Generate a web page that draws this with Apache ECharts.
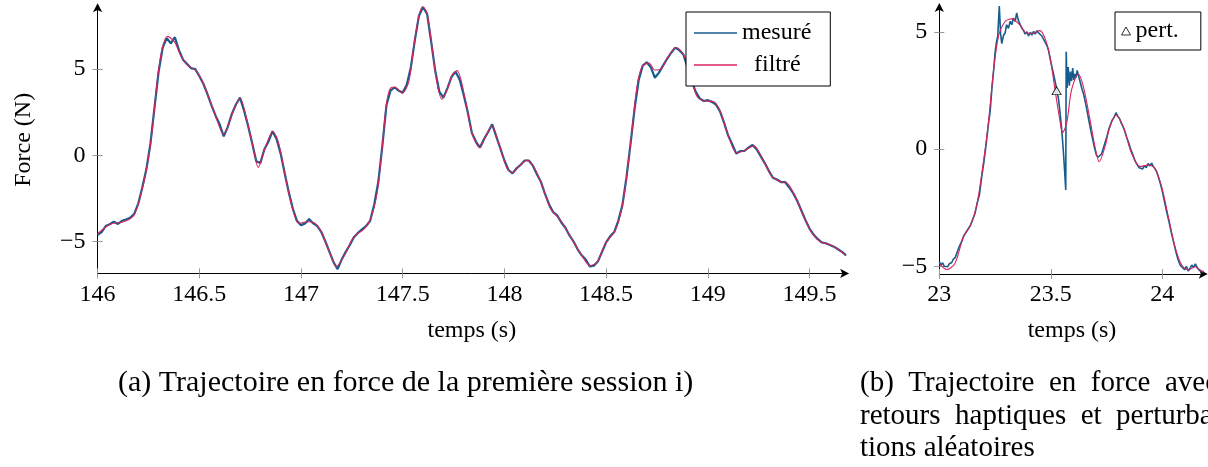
<!DOCTYPE html>
<html><head><meta charset="utf-8">
<script src="https://cdn.jsdelivr.net/npm/echarts@6/dist/echarts.min.js"></script>
<style>html,body{margin:0;padding:0;background:#fff}#c{width:1208px;height:467px}</style>
</head><body><div id="c"></div>
<script>
// ---------- data ----------
const leftMeasT = [146.00,146.02,146.04,146.06,146.08,146.10,146.12,146.14,146.16,146.18,146.20,146.22,146.24,146.26,146.28,146.30,146.32,146.34,146.36,146.38,146.40,146.42,146.44,146.46,146.48,146.50,146.52,146.54,146.56,146.58,146.60,146.62,146.64,146.66,146.68,146.70,146.72,146.74,146.76,146.78,146.80,146.82,146.84,146.86,146.88,146.90,146.92,146.94,146.96,146.98,147.00,147.02,147.04,147.06,147.08,147.10,147.12,147.14,147.16,147.18,147.20,147.22,147.24,147.26,147.28,147.30,147.32,147.34,147.36,147.38,147.40,147.42,147.44,147.46,147.48,147.50,147.52,147.54,147.56,147.58,147.60,147.62,147.64,147.66,147.68,147.70,147.72,147.74,147.76,147.78,147.80,147.82,147.84,147.86,147.88,147.90,147.92,147.94,147.96,147.98,148.00,148.02,148.04,148.06,148.08,148.10,148.12,148.14,148.16,148.18,148.20,148.22,148.24,148.26,148.28,148.30,148.32,148.34,148.36,148.38,148.40,148.42,148.44,148.46,148.48,148.50,148.52,148.54,148.56,148.58,148.60,148.62,148.64,148.66,148.68,148.70,148.72,148.74,148.76,148.78,148.80,148.82,148.84,148.86,148.88,148.90,148.92,148.94,148.96,148.98,149.00,149.02,149.04,149.06,149.08,149.10,149.12,149.14,149.16,149.18,149.20,149.22,149.24,149.26,149.28,149.30,149.32,149.34,149.36,149.38,149.40,149.42,149.44,149.46,149.48,149.50,149.52,149.54,149.56,149.58,149.60,149.62,149.64,149.66,149.68];
const leftMeasV = [-4.62,-4.45,-4.10,-4.00,-3.85,-3.98,-3.80,-3.72,-3.62,-3.40,-2.80,-1.85,-0.80,0.70,2.80,4.85,6.25,6.80,6.50,6.85,6.10,5.55,5.30,5.05,5.00,4.60,4.15,3.55,2.90,2.30,1.80,1.10,1.65,2.40,2.95,3.35,2.60,1.70,0.70,-0.35,-0.45,0.35,0.80,1.40,0.95,0.10,-1.05,-2.15,-3.10,-3.80,-4.05,-3.95,-3.70,-3.95,-4.10,-4.45,-5.00,-5.60,-6.20,-6.60,-6.05,-5.60,-5.20,-4.75,-4.50,-4.30,-4.10,-3.80,-2.85,-1.55,0.55,2.90,3.75,3.95,3.75,3.65,4.10,5.10,6.70,8.10,8.60,8.20,6.60,4.90,3.70,3.35,3.90,4.55,4.85,4.40,3.50,2.50,1.30,0.80,0.45,0.95,1.35,1.80,1.10,0.40,-0.30,-0.85,-1.05,-0.75,-0.55,-0.30,-0.30,-0.60,-1.10,-1.55,-2.25,-2.85,-3.30,-3.50,-3.90,-4.20,-4.65,-5.00,-5.45,-5.80,-6.05,-6.45,-6.40,-6.15,-5.60,-5.05,-4.70,-4.45,-3.80,-2.90,-1.30,0.65,2.70,4.35,5.20,5.40,5.10,4.50,4.80,5.20,5.60,5.95,6.25,6.10,5.85,5.10,4.35,3.70,3.30,3.15,3.20,3.10,2.95,2.55,1.90,1.15,0.65,0.10,0.25,0.25,0.45,0.60,0.35,-0.05,-0.45,-0.90,-1.30,-1.40,-1.55,-1.55,-1.85,-2.20,-2.65,-3.20,-3.75,-4.25,-4.60,-4.85,-5.05,-5.10,-5.20,-5.30,-5.45,-5.60,-5.80];

const leftFiltT = [146.000,146.062,146.128,146.177,146.210,146.243,146.267,146.292,146.316,146.344,146.380,146.407,146.440,146.480,146.520,146.570,146.620,146.669,146.700,146.734,146.767,146.790,146.820,146.862,146.890,146.923,146.956,146.989,147.030,147.062,147.095,147.136,147.174,147.210,147.260,147.308,147.340,147.374,147.398,147.423,147.447,147.472,147.497,147.530,147.554,147.579,147.598,147.620,147.644,147.669,147.693,147.718,147.743,147.767,147.808,147.841,147.879,147.907,147.939,147.972,148.013,148.040,148.070,148.111,148.144,148.185,148.226,148.275,148.325,148.374,148.423,148.456,148.497,148.546,148.579,148.603,148.628,148.652,148.677,148.710,148.740,148.770,148.800,148.846,148.882,148.915,148.948,148.980,149.030,149.062,149.103,149.141,149.177,149.226,149.267,149.316,149.357,149.390,149.431,149.472,149.513,149.554,149.603,149.644,149.677];
const leftFiltV = [-4.55,-4.00,-3.85,-3.50,-2.40,-0.66,1.28,4.18,6.11,6.90,6.55,5.82,5.24,4.95,4.18,2.63,1.22,2.63,3.31,2.05,0.31,-0.70,0.31,1.37,0.70,-1.24,-2.98,-3.95,-3.85,-3.90,-4.33,-5.49,-6.45,-5.88,-4.72,-4.29,-3.75,-2.20,0.31,3.21,3.95,3.89,3.60,4.27,6.30,8.05,8.60,8.24,6.30,4.18,3.25,3.79,4.66,4.91,3.21,1.28,0.45,1.08,1.70,0.70,-0.75,-1.00,-0.66,-0.28,-0.66,-1.72,-3.08,-3.75,-4.72,-5.69,-6.40,-6.20,-5.11,-4.33,-2.98,-1.04,1.47,3.98,5.15,5.35,4.95,5.00,5.63,6.25,5.82,4.56,3.40,3.17,3.11,2.53,1.08,0.15,0.27,0.55,-0.17,-1.24,-1.53,-1.62,-2.40,-3.56,-4.53,-5.01,-5.20,-5.49,-5.78];

const rightMeasT = [23.000,23.008,23.015,23.022,23.030,23.038,23.046,23.055,23.063,23.072,23.080,23.090,23.100,23.110,23.120,23.130,23.140,23.150,23.160,23.170,23.180,23.190,23.200,23.210,23.220,23.228,23.236,23.244,23.250,23.256,23.262,23.269,23.275,23.280,23.288,23.295,23.302,23.310,23.318,23.325,23.332,23.340,23.347,23.354,23.362,23.370,23.378,23.385,23.393,23.400,23.408,23.415,23.423,23.430,23.438,23.445,23.452,23.460,23.467,23.475,23.483,23.490,23.497,23.505,23.512,23.520,23.527,23.535,23.542,23.550,23.557,23.562,23.567,23.569,23.573,23.578,23.583,23.588,23.593,23.598,23.603,23.608,23.613,23.618,23.625,23.632,23.640,23.648,23.656,23.664,23.672,23.680,23.688,23.696,23.704,23.712,23.720,23.728,23.736,23.744,23.752,23.760,23.768,23.776,23.784,23.792,23.800,23.808,23.816,23.824,23.832,23.840,23.848,23.856,23.864,23.872,23.880,23.888,23.896,23.904,23.912,23.920,23.928,23.936,23.944,23.952,23.960,23.968,23.976,23.984,23.992,24.000,24.010,24.020,24.030,24.040,24.050,24.060,24.070,24.080,24.090,24.100,24.108,24.116,24.124,24.132,24.140,24.148,24.156,24.164,24.172,24.180,24.185];
const rightMeasV = [-4.80,-4.95,-4.85,-5.00,-4.92,-5.02,-4.88,-4.85,-4.70,-4.62,-4.40,-4.15,-3.95,-3.70,-3.55,-3.40,-3.25,-3.00,-2.75,-2.30,-1.95,-1.20,-0.55,0.20,1.05,1.60,2.60,3.40,4.10,4.55,4.80,6.10,4.90,4.50,4.85,4.95,5.30,5.15,5.45,5.30,5.58,5.45,5.80,5.50,5.43,5.15,5.05,4.90,5.00,4.82,4.98,4.86,5.02,4.90,5.05,4.95,5.00,4.82,4.75,4.55,4.40,4.20,3.85,3.50,3.20,2.85,2.50,2.10,1.50,0.70,-0.20,-0.95,-1.75,4.15,2.60,3.50,2.70,3.30,2.90,3.45,2.95,3.20,3.05,3.35,3.10,2.85,2.55,2.30,1.95,1.55,1.15,0.75,0.40,0.05,-0.25,-0.35,-0.30,-0.20,0.05,0.30,0.55,0.85,1.05,1.25,1.35,1.55,1.40,1.30,1.10,0.95,0.75,0.50,0.30,0.05,-0.15,-0.35,-0.55,-0.62,-0.80,-0.75,-0.85,-0.70,-0.80,-0.62,-0.72,-0.60,-0.75,-0.85,-1.00,-1.25,-1.50,-1.80,-2.25,-2.70,-3.10,-3.55,-3.95,-4.35,-4.70,-4.95,-5.05,-5.15,-5.00,-5.20,-5.10,-4.95,-5.05,-4.90,-5.05,-5.15,-5.10,-5.25,-5.20];

const rightFiltT = [23.000,23.033,23.070,23.108,23.137,23.167,23.197,23.220,23.242,23.265,23.294,23.324,23.362,23.392,23.421,23.451,23.474,23.496,23.519,23.538,23.553,23.571,23.593,23.623,23.646,23.676,23.698,23.717,23.743,23.765,23.792,23.825,23.862,23.900,23.937,23.967,23.997,24.027,24.057,24.087,24.117,24.147,24.169,24.184];
const rightFiltV = [-4.88,-5.14,-4.88,-3.74,-3.31,-2.45,-0.61,1.10,3.23,4.79,5.43,5.55,5.29,4.94,4.94,5.05,4.72,3.94,2.52,1.38,0.70,1.10,2.52,3.20,2.66,1.24,0.10,-0.54,0.10,0.95,1.45,0.95,-0.18,-0.75,-0.68,-0.83,-1.61,-2.89,-4.17,-4.95,-5.16,-5.02,-5.16,-5.23];

const pertT = [23.526];
const pertV = [2.49];

const leftXTicks = [146, 146.5, 147, 147.5, 148, 148.5, 149, 149.5];
const leftYTicks = [-5, 0, 5];
const rightXTicks = [23, 23.5, 24];
const rightYTicks = [-5, 0, 5];

const seriesNames = ['mesuré', 'filtré', 'pert.'];
const xTitle = 'temps (s)';
const yTitle = 'Force (N)';
const captionA = '(a) Trajectoire en force de la première session i)';
const captionB = ['(b)  Trajectoire  en  force  avec', 'retours  haptiques  et  perturba-', 'tions aléatoires'];

// ---------- styling ----------
const FAM = 'Liberation Serif';
const BLUE = '#145d8c';
const RED = '#d8245e';
const TICK = '#9a9a9a';
const fmt = v => String(v).replace('-', '\u2212');
const pairs = (t, v) => t.map((x, i) => [x, v[i]]);
const txt = { fontFamily: FAM, fontSize: 24, color: '#000', fontWeight: 'normal' };

function mainAxis(kind, gridIndex, min, max, ticks, name, nameGap) {
  return {
    type: 'value', gridIndex, min, max,
    position: kind === 'x' ? 'bottom' : 'left',
    axisLine: { show: true, onZero: false, lineStyle: { color: '#000', width: 1 },
      symbol: ['none', 'arrow'], symbolSize: [7, 9], symbolOffset: [0, 3] },
    axisTick: { show: true, length: 5, lineStyle: { color: TICK, width: 1 }, customValues: ticks },
    axisLabel: Object.assign({ show: true, customValues: ticks,
      formatter: v => '{t|' + fmt(v) + '}', rich: { t: Object.assign({}, txt) },
      margin: kind === 'x' ? 9 : 12 }, txt),
    splitLine: { show: false },
    name: name || '', nameLocation: 'middle', nameGap: nameGap || 0,
    nameTextStyle: Object.assign({}, txt)
  };
}
function overlayAxis(kind, gridIndex, min, max, ticks) {
  return {
    type: 'value', gridIndex, min, max,
    position: kind === 'x' ? 'bottom' : 'left',
    axisLine: { show: false, onZero: false },
    axisTick: { show: true, inside: true, length: 5, lineStyle: { color: TICK, width: 1 }, customValues: ticks },
    axisLabel: { show: false, customValues: ticks },
    splitLine: { show: false }
  };
}

const L = { xmin: 146, xmax: 149.68, ymin: -6.85, ymax: 8.65 };
const R = { xmin: 23, xmax: 24.19, ymin: -5.33, ymax: 6.1 };

const chart = echarts.init(document.getElementById('c'), null, { renderer: 'canvas' });
chart.setOption({
  animation: false,
  backgroundColor: '#fff',
  textStyle: { fontFamily: FAM, color: '#000' },
  grid: [
    { left: 97.6, top: 6.2, width: 748.5, height: 267.2 },
    { left: 939.3, top: 6.0, width: 265.4, height: 268.0 }
  ],
  xAxis: [
    mainAxis('x', 0, L.xmin, L.xmax, leftXTicks, xTitle, 45),
    mainAxis('x', 1, R.xmin, R.xmax, rightXTicks, xTitle, 45),
    overlayAxis('x', 0, L.xmin, L.xmax, leftXTicks),
    overlayAxis('x', 1, R.xmin, R.xmax, rightXTicks)
  ],
  yAxis: [
    mainAxis('y', 0, L.ymin, L.ymax, leftYTicks, yTitle, 62),
    mainAxis('y', 1, R.ymin, R.ymax, rightYTicks, '', 0),
    overlayAxis('y', 0, L.ymin, L.ymax, leftYTicks),
    overlayAxis('y', 1, R.ymin, R.ymax, rightYTicks)
  ],
  legend: [
    { data: [{ name: seriesNames[0], icon: 'rect' }, { name: seriesNames[1], icon: 'rect' }],
      left: 686, top: 12, orient: 'vertical',
      itemWidth: 43, itemHeight: 1.6, itemGap: 6, padding: [8, 19, 8, 8],
      backgroundColor: '#fff', borderColor: '#000', borderWidth: 1, borderRadius: 0,
      formatter: n => (n === seriesNames[1] ? '\u2002' : '') + n,
      textStyle: Object.assign({ lineHeight: 26 }, txt) },
    { data: [seriesNames[2]], left: 1115, top: 12, orient: 'vertical',
      itemWidth: 9, itemHeight: 8, padding: [7, 22, 7, 6],
      backgroundColor: '#fff', borderColor: '#000', borderWidth: 1, borderRadius: 0,
      itemStyle: { color: '#fff', borderColor: '#000', borderWidth: 1 },
      textStyle: Object.assign({}, txt) }
  ],
  series: [
    { name: seriesNames[0], type: 'line', xAxisIndex: 0, yAxisIndex: 0, data: pairs(leftMeasT, leftMeasV),
      symbol: 'none', lineStyle: { color: BLUE, width: 2.2 }, itemStyle: { color: BLUE }, z: 2, clip: true },
    { name: seriesNames[1], type: 'line', xAxisIndex: 0, yAxisIndex: 0, data: pairs(leftFiltT, leftFiltV),
      symbol: 'none', smooth: 0.3, lineStyle: { color: RED, width: 1.1 }, itemStyle: { color: RED }, z: 3, clip: true },
    { name: 'b-' + seriesNames[0], type: 'line', xAxisIndex: 1, yAxisIndex: 1, data: pairs(rightMeasT, rightMeasV),
      symbol: 'none', lineStyle: { color: BLUE, width: 1.6 }, itemStyle: { color: BLUE }, z: 2, clip: true },
    { name: 'b-' + seriesNames[1], type: 'line', xAxisIndex: 1, yAxisIndex: 1, data: pairs(rightFiltT, rightFiltV),
      symbol: 'none', smooth: 0.3, lineStyle: { color: RED, width: 1.1 }, itemStyle: { color: RED }, z: 3, clip: true },
    { name: seriesNames[2], type: 'scatter', xAxisIndex: 1, yAxisIndex: 1, data: pairs(pertT, pertV),
      symbol: 'triangle', symbolSize: [9, 8], itemStyle: { color: '#fff', borderColor: '#000', borderWidth: 1 }, z: 5 }
  ],
  graphic: [
    { type: 'text', left: 118, top: 368, style: { text: captionA, font: '30px "Liberation Serif"', fill: '#000' } },
    { type: 'text', left: 860, top: 369, style: { text: captionB[0], font: '29px "Liberation Serif"', fill: '#000' } },
    { type: 'text', left: 860, top: 402, style: { text: captionB[1], font: '29px "Liberation Serif"', fill: '#000' } },
    { type: 'text', left: 860, top: 434, style: { text: captionB[2], font: '29px "Liberation Serif"', fill: '#000' } }
  ]
});
</script>
</body></html>
